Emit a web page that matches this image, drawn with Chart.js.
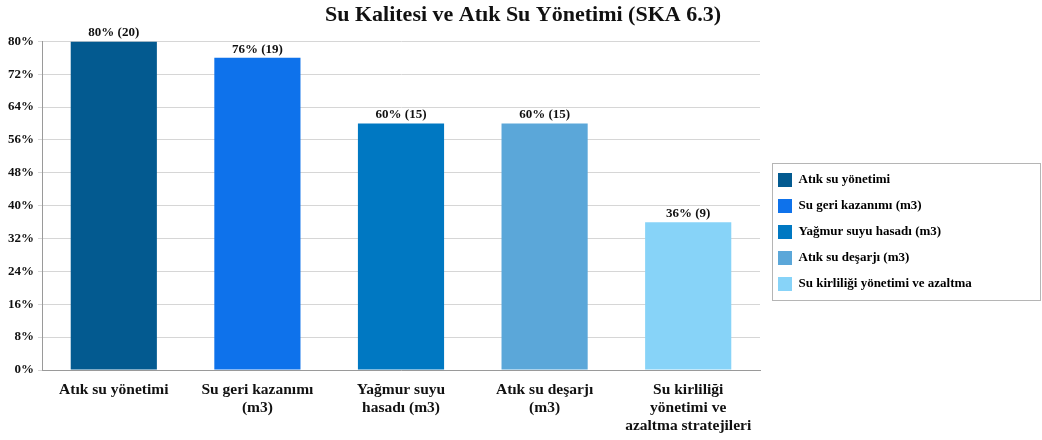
<!DOCTYPE html>
<html>
<head>
<meta charset="utf-8">
<script src="https://cdn.jsdelivr.net/npm/chart.js@4/dist/chart.umd.min.js"></script>
<style>
  html, body { margin: 0; padding: 0; background: #fff; }
  #wrap { width: 1042px; height: 440px; }
</style>
</head>
<body>
<div id="wrap"><canvas id="grafica"></canvas></div>
<script>
const baslik = 'Su Kalitesi ve Atık Su Yönetimi (SKA 6.3)';
const kategoriler = [
    ['Atık su yönetimi'],
    ['Su geri kazanımı', '(m3)'],
    ['Yağmur suyu', 'hasadı (m3)'],
    ['Atık su deşarjı', '(m3)'],
    ['Su kirliliği', 'yönetimi ve', 'azaltma stratejileri']
];
const lejant = [
    'Atık su yönetimi',
    'Su geri kazanımı (m3)',
    'Yağmur suyu hasadı (m3)',
    'Atık su deşarjı (m3)',
    'Su kirliliği yönetimi ve azaltma'
];
const yuzdeler = [80, 76, 60, 60, 36];
const sayilar = [20, 19, 15, 15, 9];
const renkler = ['#035a90', '#0e72eb', '#0078c2', '#5ba7d9', '#87d3f8'];

const fontAile = "'Liberation Serif', 'Times New Roman', serif";
const lejantGenislik = 282;
const lejantKaymaY = 12;
const lejantKaymaX = 6;

// bar ustu etiketler: "80% (20)"
const etiketPlugin = {
    id: 'etiketler',
    afterDatasetsDraw(chart) {
        const ctx = chart.ctx;
        const meta = chart.getDatasetMeta(0);
        ctx.save();
        ctx.font = 'bold 13px ' + fontAile;
        ctx.fillStyle = '#111';
        ctx.textAlign = 'center';
        ctx.textBaseline = 'bottom';
        meta.data.forEach((bar, i) => {
            ctx.fillText(yuzdeler[i] + '% (' + sayilar[i] + ')', bar.x, bar.y - 2);
        });
        ctx.restore();
    }
};

// lejanti genislet, kaydir, cerceve ciz
const lejantPlugin = {
    id: 'lejantAyar',
    beforeLayout(chart) {
        const lg = chart.legend;
        if (lg && !lg._genis) {
            const eski = lg.fit;
            lg.fit = function () {
                eski.call(this);
                this.width = Math.max(this.width, lejantGenislik);
            };
            lg._genis = true;
        }
    },
    afterLayout(chart) {
        const lg = chart.legend;
        if (lg) {
            lg.top += lejantKaymaY;
            lg.bottom += lejantKaymaY;
            lg.left += lejantKaymaX;
            lg.right += lejantKaymaX;
        }
    },
    afterDraw(chart) {
        const kutular = chart.legend.legendHitBoxes;
        if (!kutular || !kutular.length) return;
        const ctx = chart.ctx;
        const sol = chart.legend.left + 6;
        const ust = kutular[0].top - 10;
        const son = kutular[kutular.length - 1];
        const alt = son.top + son.height + 9;
        ctx.save();
        ctx.strokeStyle = '#b5b5b5';
        ctx.lineWidth = 1;
        ctx.strokeRect(Math.round(sol) + 0.5, Math.round(ust) + 0.5,
            chart.width - 2 - Math.round(sol), Math.round(alt - ust));
        ctx.restore();
    }
};

const ctx = document.getElementById('grafica').getContext('2d');
new Chart(ctx, {
    type: 'bar',
    data: {
        labels: kategoriler,
        datasets: [{
            data: yuzdeler,
            backgroundColor: renkler,
            borderWidth: 0,
            barPercentage: 0.6,
            categoryPercentage: 1.0
        }]
    },
    options: {
        responsive: true,
        maintainAspectRatio: false,
        animation: false,
        layout: { padding: { left: 4, right: 0, top: 0, bottom: 0 } },
        plugins: {
            title: {
                display: true,
                text: baslik,
                color: '#111',
                font: { family: fontAile, size: 22, weight: 'bold' },
                padding: { top: 2, bottom: 13 }
            },
            legend: {
                position: 'right',
                labels: {
                    color: '#111',
                    font: { family: fontAile, size: 13, weight: 'bold' },
                    boxWidth: 14,
                    boxHeight: 14,
                    padding: 12,
                    generateLabels() {
                        return lejant.map((t, i) => ({
                            text: t,
                            fillStyle: renkler[i],
                            strokeStyle: renkler[i],
                            lineWidth: 0,
                            hidden: false,
                            index: i
                        }));
                    }
                }
            },
            tooltip: { enabled: false }
        },
        scales: {
            x: {
                grid: { display: false, drawTicks: false },
                border: { color: '#9a9a9a' },
                afterFit(scale) { scale.height = 70; },
                ticks: {
                    color: '#111',
                    maxRotation: 0,
                    padding: 11,
                    font: { family: fontAile, size: 15.5, weight: 'bold', lineHeight: 1.16 }
                }
            },
            y: {
                min: 0,
                max: 80,
                grid: { color: '#d6d6d6', tickLength: 4 },
                border: { color: '#9a9a9a' },
                ticks: {
                    stepSize: 8,
                    color: '#111',
                    padding: 4,
                    font: { family: fontAile, size: 13, weight: 'bold' },
                    callback: v => v + '%'
                }
            }
        }
    },
    plugins: [etiketPlugin, lejantPlugin]
});
</script>
</body>
</html>
